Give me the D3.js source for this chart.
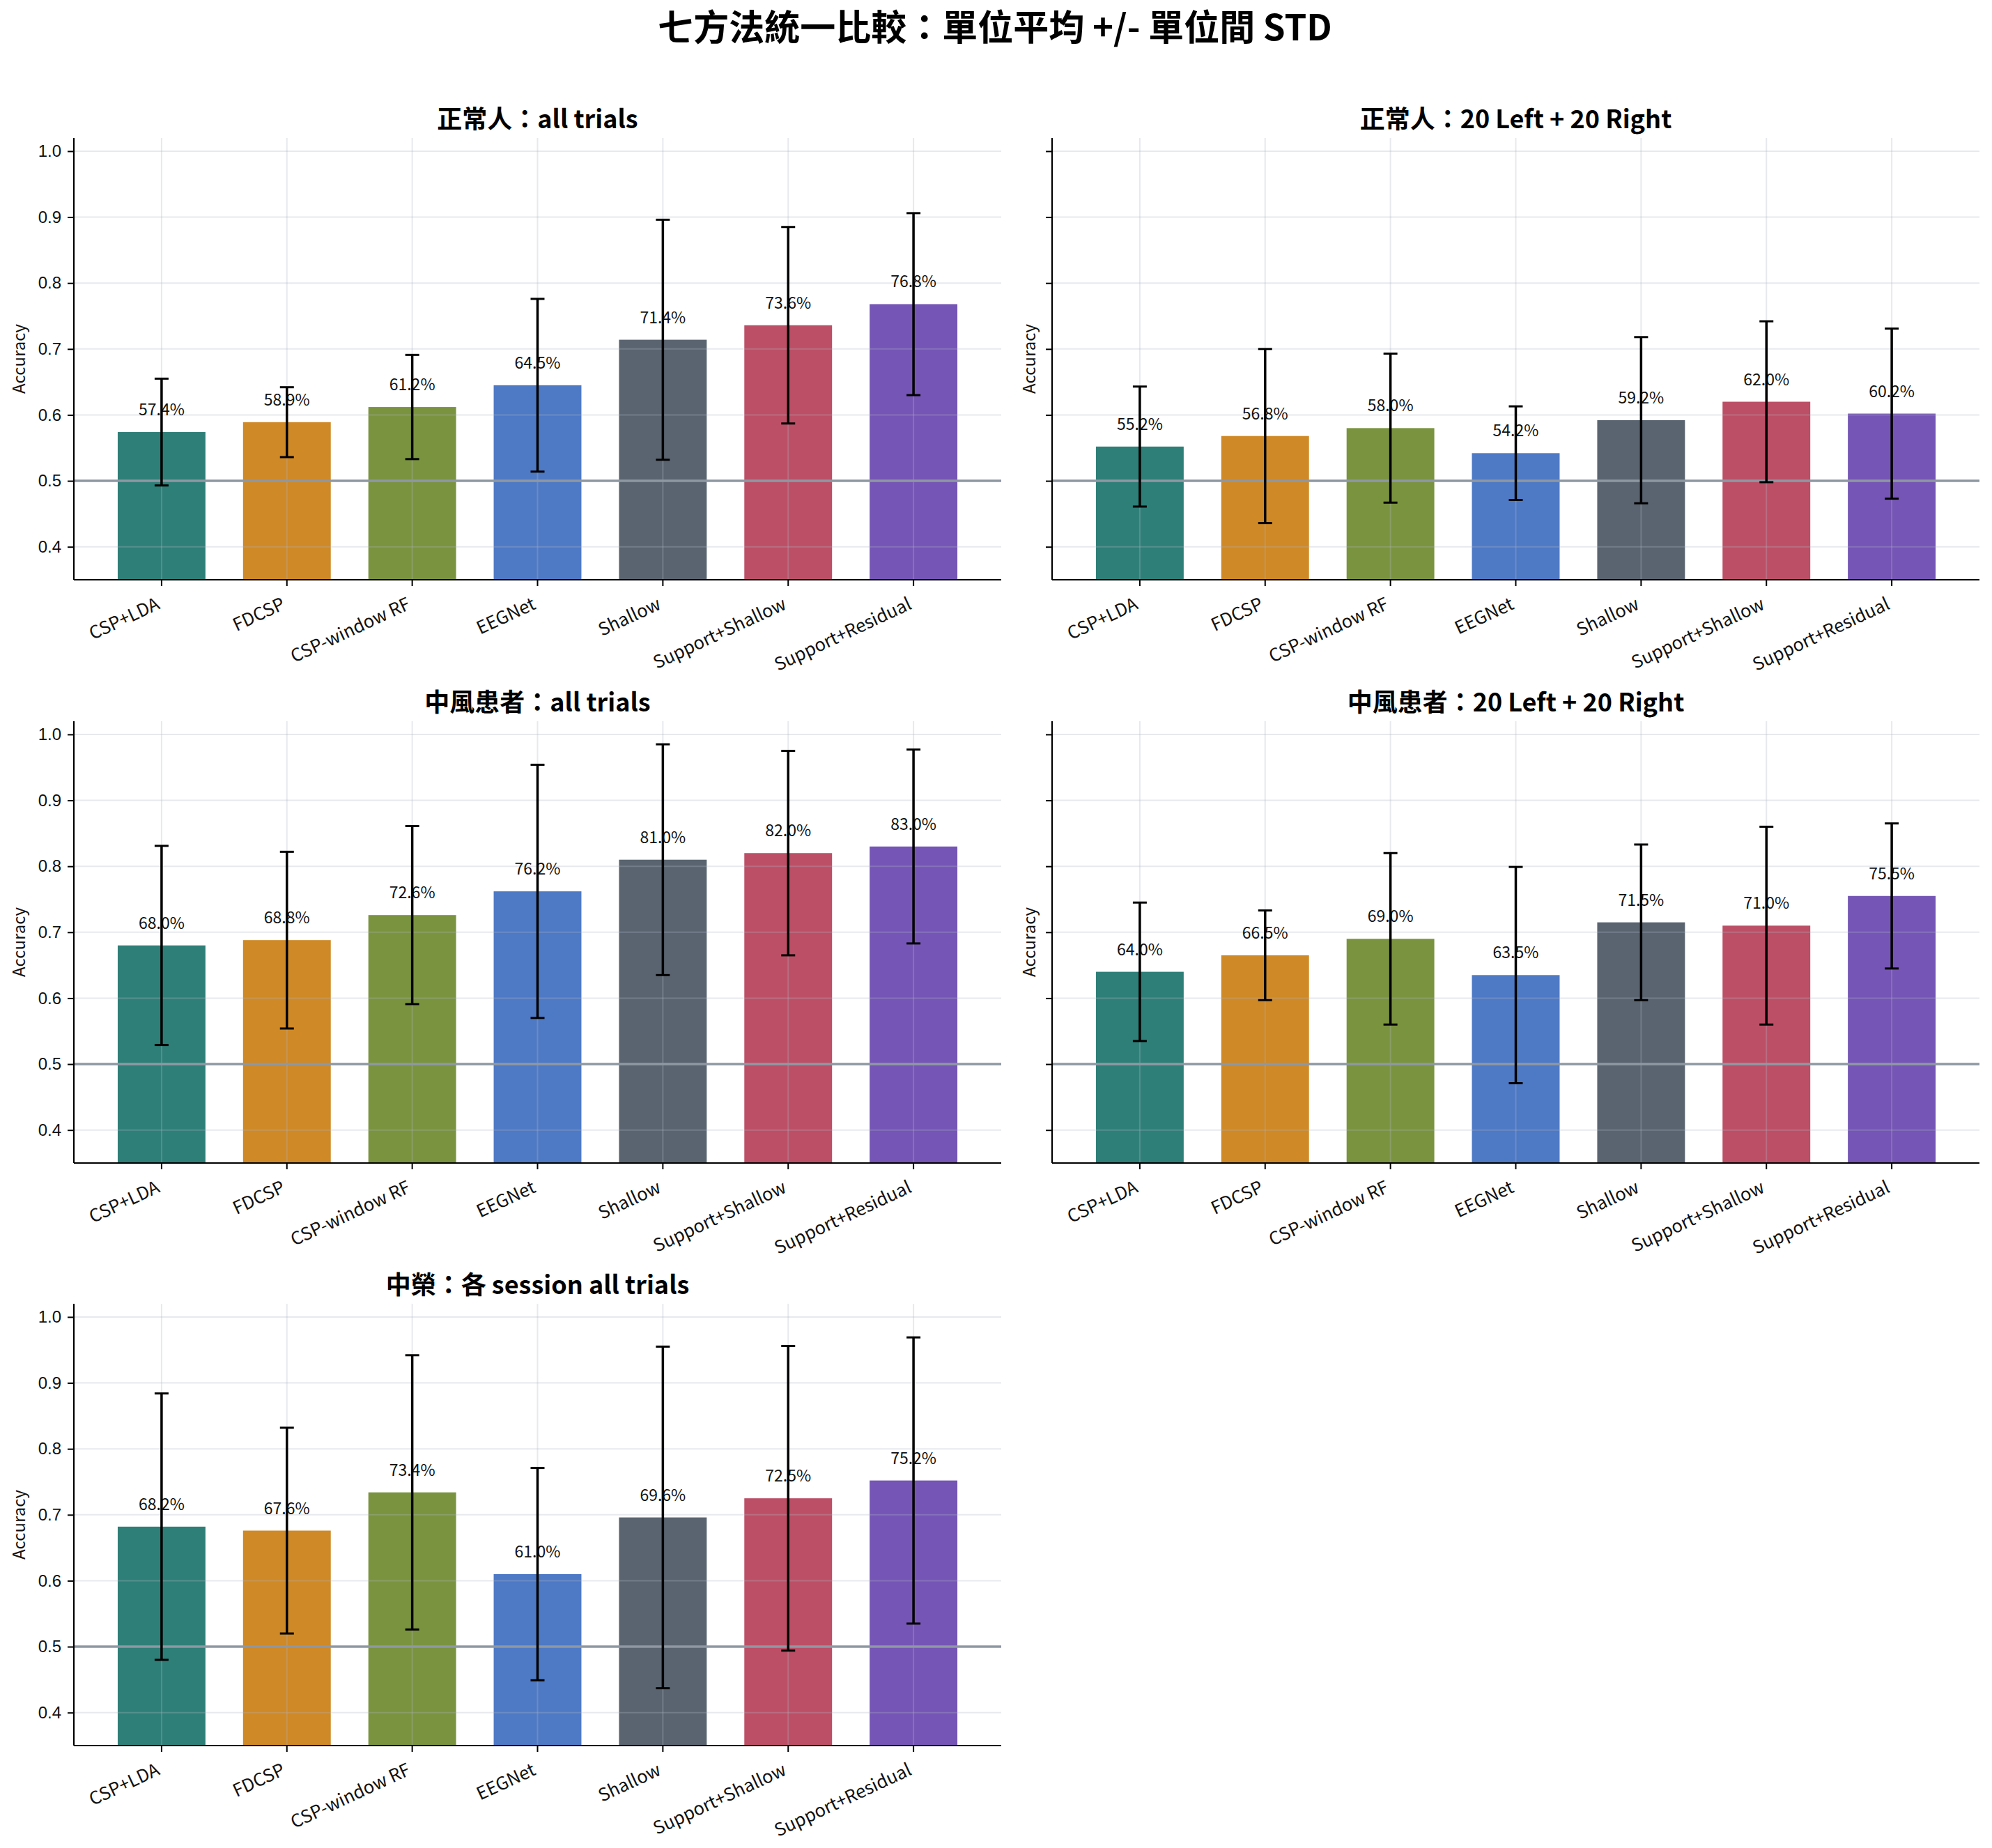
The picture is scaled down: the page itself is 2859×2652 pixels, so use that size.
<!doctype html>
<html>
<head>
<meta charset="UTF-8">
<title>七方法統一比較</title>
<script src="https://cdn.jsdelivr.net/npm/d3@7"></script>
<style>
  body { margin: 0; background: #fff; }
  svg { display: block; font-family: "Noto Sans CJK TC", "Noto Sans", sans-serif; }
</style>
</head>
<body>
<svg id="chart" width="2859" height="2652"></svg>
<script>
// ---- data ----
var methods = ["CSP+LDA", "FDCSP", "CSP-window RF", "EEGNet", "Shallow", "Support+Shallow", "Support+Residual"];
var barColors = ["#2e7f78", "#cf8926", "#7a933f", "#4e79c5", "#5a6470", "#bc4f66", "#7555b5"];
var yTicks = [0.4, 0.5, 0.6, 0.7, 0.8, 0.9, 1.0];

var normalAllMean = [0.574, 0.589, 0.612, 0.645, 0.714, 0.736, 0.768];
var normalAllStd  = [0.081, 0.053, 0.079, 0.131, 0.182, 0.149, 0.138];
var normal20Mean  = [0.552, 0.568, 0.580, 0.542, 0.592, 0.620, 0.602];
var normal20Std   = [0.091, 0.132, 0.113, 0.071, 0.126, 0.122, 0.129];
var strokeAllMean = [0.680, 0.688, 0.726, 0.762, 0.810, 0.820, 0.830];
var strokeAllStd  = [0.151, 0.134, 0.135, 0.192, 0.175, 0.155, 0.147];
var stroke20Mean  = [0.640, 0.665, 0.690, 0.635, 0.715, 0.710, 0.755];
var stroke20Std   = [0.105, 0.068, 0.130, 0.164, 0.118, 0.150, 0.110];
var vghAllMean    = [0.682, 0.676, 0.734, 0.610, 0.696, 0.725, 0.752];
var vghAllStd     = [0.202, 0.156, 0.208, 0.161, 0.259, 0.231, 0.217];

var panels = [
  {title: "正常人：all trials",          mean: normalAllMean, std: normalAllStd, col: 0, row: 0},
  {title: "正常人：20 Left + 20 Right",  mean: normal20Mean,  std: normal20Std,  col: 1, row: 0},
  {title: "中風患者：all trials",        mean: strokeAllMean, std: strokeAllStd, col: 0, row: 1},
  {title: "中風患者：20 Left + 20 Right", mean: stroke20Mean,  std: stroke20Std,  col: 1, row: 1},
  {title: "中榮：各 session all trials",  mean: vghAllMean,    std: vghAllStd,    col: 0, row: 2}
];

// ---- layout ----
var svg = d3.select("#chart");
svg.append("rect").attr("width", 2859).attr("height", 2652).attr("fill", "#fff");

svg.append("text")
  .attr("x", 1428).attr("y", 58)
  .attr("text-anchor", "middle")
  .style("font-size", "51px").style("font-weight", "bold")
  .text("七方法統一比較：單位平均 +/- 單位間 STD");

var colX = [106, 1510];
var rowTop = [198, 1035, 1871];
var plotW = 1331, plotH = 634;

var x = d3.scaleLinear().domain([-0.7, 6.7]).range([0, plotW]);
var y = d3.scaleLinear().domain([0.35, 1.02]).range([plotH, 0]);

panels.forEach(function(p) {
  var g = svg.append("g")
    .attr("transform", "translate(" + colX[p.col] + "," + rowTop[p.row] + ")");

  // title
  g.append("text")
    .attr("x", plotW / 2).attr("y", -14)
    .attr("text-anchor", "middle")
    .style("font-size", "36px").style("font-weight", "bold")
    .text(p.title);

  // bars
  g.selectAll(".bar").data(p.mean).enter().append("rect")
    .attr("x", function(d, i) { return x(i - 0.35); })
    .attr("width", x(0.35) - x(-0.35))
    .attr("y", function(d) { return y(d); })
    .attr("height", function(d) { return y(0.35) - y(d); })
    .attr("fill", function(d, i) { return barColors[i]; });

  // grid on top, faint
  g.selectAll(".hgrid").data(yTicks).enter().append("line")
    .attr("x1", 0).attr("x2", plotW)
    .attr("y1", function(d) { return y(d); }).attr("y2", function(d) { return y(d); })
    .attr("stroke", "#b0b7c3").attr("stroke-opacity", 0.3).attr("stroke-width", 2);
  g.selectAll(".vgrid").data(methods).enter().append("line")
    .attr("x1", function(d, i) { return x(i); }).attr("x2", function(d, i) { return x(i); })
    .attr("y1", 0).attr("y2", plotH)
    .attr("stroke", "#b0b7c3").attr("stroke-opacity", 0.3).attr("stroke-width", 2);

  // chance line
  g.append("line")
    .attr("x1", 0).attr("x2", plotW)
    .attr("y1", y(0.5)).attr("y2", y(0.5))
    .attr("stroke", "#8e98a3").attr("stroke-width", 3.5);

  // value labels
  g.selectAll(".val").data(p.mean).enter().append("text")
    .attr("x", function(d, i) { return x(i); })
    .attr("y", function(d) { return y(d) - 24; })
    .attr("text-anchor", "middle")
    .style("font-size", "23px").attr("fill", "#111")
    .text(function(d) { return (d * 100).toFixed(1) + "%"; });

  // error bars
  var eb = g.selectAll(".eb").data(p.mean).enter().append("g");
  eb.append("line")
    .attr("x1", function(d, i) { return x(i); }).attr("x2", function(d, i) { return x(i); })
    .attr("y1", function(d, i) { return y(d - p.std[i]); })
    .attr("y2", function(d, i) { return y(d + p.std[i]); })
    .attr("stroke", "#000").attr("stroke-width", 3.5);
  [-1, 1].forEach(function(s) {
    eb.append("line")
      .attr("x1", function(d, i) { return x(i) - 10; }).attr("x2", function(d, i) { return x(i) + 10; })
      .attr("y1", function(d, i) { return y(d + s * p.std[i]); })
      .attr("y2", function(d, i) { return y(d + s * p.std[i]); })
      .attr("stroke", "#000").attr("stroke-width", 3);
  });

  // y axis
  var yAxis = d3.axisLeft(y).tickValues(yTicks).tickSize(9).tickPadding(9)
    .tickFormat(p.col === 0 ? d3.format(".1f") : function() { return ""; });
  var ya = g.append("g").call(yAxis);
  ya.select(".domain").remove();
  ya.selectAll("line").attr("stroke", "#000").attr("stroke-width", 2);
  ya.selectAll("text").style("font-size", "24px").attr("fill", "#111");

  // x axis ticks
  var xa = g.append("g").attr("transform", "translate(0," + plotH + ")");
  xa.selectAll(".xt").data(methods).enter().append("line")
    .attr("x1", function(d, i) { return x(i); }).attr("x2", function(d, i) { return x(i); })
    .attr("y1", 0).attr("y2", 9)
    .attr("stroke", "#000").attr("stroke-width", 2);
  xa.selectAll(".xl").data(methods).enter().append("text")
    .attr("transform", function(d, i) { return "translate(" + (x(i) - 1) + ",41) rotate(-25)"; })
    .attr("text-anchor", "end")
    .style("font-size", "25.5px").attr("fill", "#111")
    .text(function(d) { return d; });

  // spines (left, bottom)
  g.append("line").attr("x1", 0).attr("x2", 0).attr("y1", 0).attr("y2", plotH)
    .attr("stroke", "#000").attr("stroke-width", 2.2);
  g.append("line").attr("x1", 0).attr("x2", plotW).attr("y1", plotH).attr("y2", plotH)
    .attr("stroke", "#000").attr("stroke-width", 2.2);

  // y label
  g.append("text")
    .attr("transform", "translate(" + (p.col === 0 ? -70 : -24) + "," + (plotH / 2) + ") rotate(-90)")
    .attr("text-anchor", "middle")
    .style("font-size", "24px").attr("fill", "#111")
    .text("Accuracy");
});
</script>
</body>
</html>
